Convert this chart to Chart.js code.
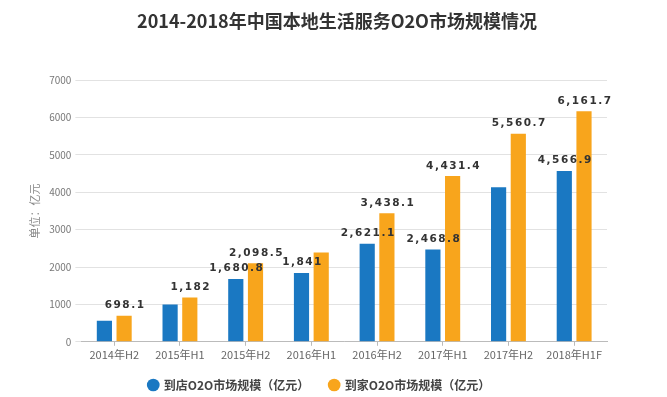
<!DOCTYPE html>
<html>
<head>
<meta charset="utf-8">
<script src="https://cdn.jsdelivr.net/npm/chart.js@4.4.1/dist/chart.umd.min.js"></script>
<style>
  html, body { margin: 0; padding: 0; background: #fff; }
  #wrap { position: relative; width: 667px; height: 397px; }
  #title {
    position: absolute; left: 0; top: 8px; width: 674px;
    text-align: center;
    font: bold 18px 'Noto Sans CJK SC', sans-serif;
    color: #333;
    line-height: 24px;
  }
</style>
</head>
<body>
<div id="wrap">
  <div id="title">2014-2018年中国本地生活服务O2O市场规模情况</div>
  <canvas id="o2oChart"></canvas>
</div>
<script>
// 横轴类别
const categories = ['2014年H2', '2015年H1', '2015年H2', '2016年H1', '2016年H2', '2017年H1', '2017年H2', '2018年H1F'];
// 到店O2O市场规模（亿元）
const storeValues = [560, 1000, 1680.8, 1841, 2621.1, 2468.8, 4130, 4566.9];
// 到家O2O市场规模（亿元）
const homeValues = [698.1, 1182, 2098.5, 2390, 3438.1, 4431.4, 5560.7, 6161.7];
// 哪些柱子上有数值标签
const storeShowLabel = [false, false, true, true, true, true, false, true];
const homeShowLabel = [true, true, true, false, true, true, true, true];
// 纵轴刻度
const yTicks = [0, 1000, 2000, 3000, 4000, 5000, 6000, 7000];

const fmt = new Intl.NumberFormat('en-US', { maximumFractionDigits: 1 });

// 柱顶数值标签
const valueLabels = {
    id: 'valueLabels',
    afterDatasetsDraw(chart) {
        const ctx = chart.ctx;
        const flags = [storeShowLabel, homeShowLabel];
        ctx.save();
        ctx.font = "bold 10.5px 'DejaVu Sans'";
        ctx.letterSpacing = '1.5px';
        ctx.fillStyle = '#333';
        ctx.textAlign = 'center';
        ctx.textBaseline = 'bottom';
        chart.data.datasets.forEach((ds, di) => {
            const meta = chart.getDatasetMeta(di);
            meta.data.forEach((bar, i) => {
                if (!flags[di][i]) return;
                ctx.fillText(fmt.format(ds.data[i]), bar.x + 1, bar.y - 5);
            });
        });
        ctx.restore();
    }
};

// 图例整体稍微往右挪一点
const legendShift = {
    id: 'legendShift',
    afterLayout(chart) {
        if (!chart.legend) return;
        chart.legend.left += 4;
        chart.legend.right += 4;
    }
};

const ctx = document.getElementById('o2oChart');
new Chart(ctx, {
    type: 'bar',
    data: {
        labels: categories,
        datasets: [
            {
                label: '到店O2O市场规模（亿元）',
                data: storeValues,
                backgroundColor: '#1a78c2',
                barPercentage: 0.77,
                categoryPercentage: 0.6
            },
            {
                label: '到家O2O市场规模（亿元）',
                data: homeValues,
                backgroundColor: '#f8a51c',
                barPercentage: 0.77,
                categoryPercentage: 0.6
            }
        ]
    },
    options: {
        responsive: true,
        maintainAspectRatio: false,
        animation: false,
        layout: {
            padding: { left: 24, right: 60, top: 80, bottom: -4 }
        },
        plugins: {
            title: { display: false },
            legend: {
                position: 'bottom',
                labels: {
                    usePointStyle: true,
                    pointStyle: 'circle',
                    boxWidth: 9,
                    boxHeight: 9,
                    padding: 4,
                    color: '#444',
                    font: { size: 12, weight: 'bold', family: "'Noto Sans CJK SC', sans-serif" },
                    generateLabels(chart) {
                        const items = Chart.defaults.plugins.legend.labels.generateLabels(chart);
                        // 第一项后面多留点间距
                        items[0].text += '      ';
                        return items;
                    }
                }
            },
            tooltip: { enabled: false }
        },
        scales: {
            x: {
                afterFit(axis) {
                    axis.height += 12;
                },
                grid: {
                    display: true,
                    drawOnChartArea: false,
                    offset: false,
                    tickLength: 4,
                    color: '#bbb'
                },
                border: { color: '#bbb' },
                ticks: {
                    color: '#666',
                    padding: 2,
                    font: { size: 11, family: "'Noto Sans CJK SC', sans-serif" }
                }
            },
            y: {
                min: 0,
                max: 7000,
                afterBuildTicks(axis) {
                    axis.ticks = yTicks.map(v => ({ value: v }));
                },
                grid: {
                    color: '#e2e2e2',
                    tickLength: 6
                },
                border: { display: false },
                ticks: {
                    color: '#777',
                    padding: 4,
                    font: { size: 10, family: "'Noto Sans CJK SC', sans-serif" },
                    callback: v => String(v)
                },
                title: {
                    display: true,
                    text: '单位：亿元',
                    color: '#888',
                    padding: { bottom: 4 },
                    font: { size: 11, family: "'Noto Sans CJK SC', sans-serif" }
                }
            }
        }
    },
    plugins: [valueLabels, legendShift]
});
</script>
</body>
</html>
